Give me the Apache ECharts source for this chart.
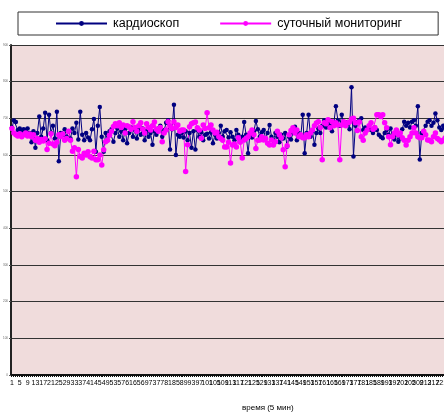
<!DOCTYPE html>
<html>
<head>
<meta charset="utf-8">
<script src="https://cdn.jsdelivr.net/npm/echarts@6/dist/echarts.min.js"></script>
<style>
  html, body { margin: 0; padding: 0; background: #fff; }
  #rrChart { width: 444px; height: 413px; }
</style>
</head>
<body>
<div id="rrChart"></div>
<script>
// R-R intervals, one point per 5 min
var kardio = [
    675, 694, 690, 668, 672, 665, 670, 668, 672, 660,
    635, 665, 620, 660, 705, 650, 672, 715, 640, 710,
    660, 680, 645, 718, 583, 660, 655, 670, 650, 665,
    645, 672, 660, 688, 642, 718, 655, 640, 660, 648,
    640, 670, 698, 609, 680, 731, 650, 609, 660, 640,
    665, 670, 636, 660, 672, 650, 665, 640, 670, 632,
    660, 675, 650, 668, 645, 670, 655, 672, 640, 665,
    650, 660, 628, 665, 655, 672, 680, 650, 668, 688,
    695, 615, 670, 737, 600, 655, 650, 660, 648, 665,
    640, 660, 620, 665, 615, 668, 650, 662, 640, 655,
    658, 645, 662, 632, 655, 645, 660, 680, 650, 665,
    668, 648, 662, 650, 640, 668, 655, 636, 650, 690,
    655, 605, 660, 648, 665, 693, 670, 650, 662, 668,
    645, 660, 682, 650, 640, 660, 650, 635, 655, 645,
    660, 623, 650, 642, 660, 677, 640, 660, 650, 710,
    605, 660, 710, 650, 665, 628, 660, 672, 660, 680,
    695, 675, 685, 680, 665, 690, 733, 695, 680, 710,
    685, 680, 690, 670, 785, 596, 680, 690, 695, 700,
    668, 675, 670, 672, 668, 660, 675, 668, 655, 650,
    646, 660, 668, 655, 672, 650, 642, 655, 636, 645,
    670, 691, 680, 688, 675, 691, 695, 680, 733, 588,
    660, 655, 680, 691, 695, 680, 688, 713, 695, 675,
    668, 680, 672, 690, 670, 680
];
var monitoring = [
    672, 660, 655, 652, 658, 650, 655, 660, 652, 657,
    650, 655, 640, 645, 635, 642, 638, 644, 615, 632,
    658, 630, 625, 635, 655, 650, 657, 640, 645, 665,
    640, 610, 620, 541, 615, 596, 592, 605, 600, 609,
    595, 592, 610, 587, 587, 600, 573, 614, 636, 640,
    654, 665, 678, 685, 680, 688, 675, 682, 660, 680,
    677, 670, 691, 675, 665, 680, 688, 670, 660, 685,
    675, 668, 680, 690, 670, 665, 675, 636, 660, 668,
    691, 680, 672, 691, 675, 682, 665, 668, 668, 555,
    628, 677, 685, 688, 690, 674, 668, 646, 682, 672,
    715, 674, 682, 668, 660, 662, 650, 645, 640, 622,
    622, 635, 578, 627, 630, 622, 647, 635, 592, 641,
    645, 650, 660, 668, 655, 618, 640, 641, 650, 641,
    645, 632, 627, 641, 627, 636, 665, 655, 647, 614,
    568, 625, 655, 667, 674, 660, 668, 650, 655, 647,
    647, 655, 650, 660, 668, 680, 687, 691, 675, 587,
    688, 685, 696, 674, 691, 680, 688, 682, 587, 682,
    691, 680, 688, 690, 698, 700, 688, 667, 690, 650,
    640, 660, 668, 680, 688, 670, 674, 710, 710, 705,
    710, 688, 674, 650, 628, 650, 660, 668, 655, 660,
    647, 640, 627, 640, 650, 660, 674, 660, 650, 647,
    647, 665, 655, 641, 640, 636, 650, 660, 645, 641,
    636, 640, 647, 650, 640, 645
];
var periods = kardio.map(function(v, i){ return String(i + 1); });

var rr_Chart = echarts.init(document.getElementById("rrChart"));

var option = {
    animation : false,
    color : ['#000080', '#ff00ff'],
    title : {
        text : 'время (5 мин)',
        left : 237,
        top : 399,
        textStyle : {
            fontFamily : 'Liberation Sans',
            fontSize : 8,
            fontWeight : 'normal',
            color : '#000'
        }
    },
    legend : {
        data : ['кардиоскоп', 'суточный мониторинг'],
        orient : 'horizontal',
        left : 18,
        top : 12,
        width : 400,
        padding : [5, 36, 5, 37],
        itemWidth : 51,
        itemHeight : 6,
        itemGap : 40,
        borderColor : '#333',
        borderWidth : 1,
        backgroundColor : '#fff',
        textStyle : {
            fontFamily : 'Liberation Sans',
            fontSize : 12.5,
            color : '#000',
            padding : [0, 0, 0, 1]
        }
    },
    grid : {
        left : 11,
        top : 45,
        bottom : 38,
        right : -8,
        containLabel : false,
        outerBoundsMode : 'none',
        show : true,
        backgroundColor : '#f0dcdc',
        borderWidth : 0
    },
    xAxis : {
        type : 'category',
        data : periods,
        boundaryGap : true,
        axisLine : { lineStyle : { color : '#111', width : 2 } },
        axisTick : { show : true, interval : 0, length : 2, lineStyle : { color : '#111' } },
        axisLabel : {
            interval : 3,
            margin : 5,
            fontFamily : 'Liberation Sans',
            fontSize : 7,
            color : '#000'
        },
        splitLine : { show : false }
    },
    yAxis : {
        type : 'value',
        min : 0,
        max : 900,
        interval : 100,
        name : 'R-R',
        nameLocation : 'middle',
        nameGap : 2,
        nameRotate : 90,
        nameTextStyle : {
            fontFamily : 'Liberation Sans',
            fontSize : 7,
            color : '#000',
            padding : [0, 0, 0, -14]
        },
        axisLine : { show : true, lineStyle : { color : '#222', width : 2 } },
        axisTick : { show : true, length : 2, lineStyle : { color : '#555' } },
        axisLabel : {
            margin : 3,
            fontFamily : 'Liberation Sans',
            fontSize : 3,
            color : '#666'
        },
        splitLine : { show : true, lineStyle : { color : '#333', width : 1 } }
    },
    series : [
        {
            name : 'кардиоскоп',
            type : 'line',
            data : kardio,
            symbol : 'circle',
            symbolSize : 4.5,
            showSymbol : true,
            showAllSymbol : true,
            lineStyle : { width : 1 },
            itemStyle : { color : '#000080' }
        },
        {
            name : 'суточный мониторинг',
            type : 'line',
            data : monitoring,
            symbol : 'circle',
            symbolSize : 5.5,
            showSymbol : true,
            showAllSymbol : true,
            lineStyle : { width : 1 },
            itemStyle : { color : '#ff00ff' }
        }
    ]
};

rr_Chart.setOption(option);
</script>
</body>
</html>
